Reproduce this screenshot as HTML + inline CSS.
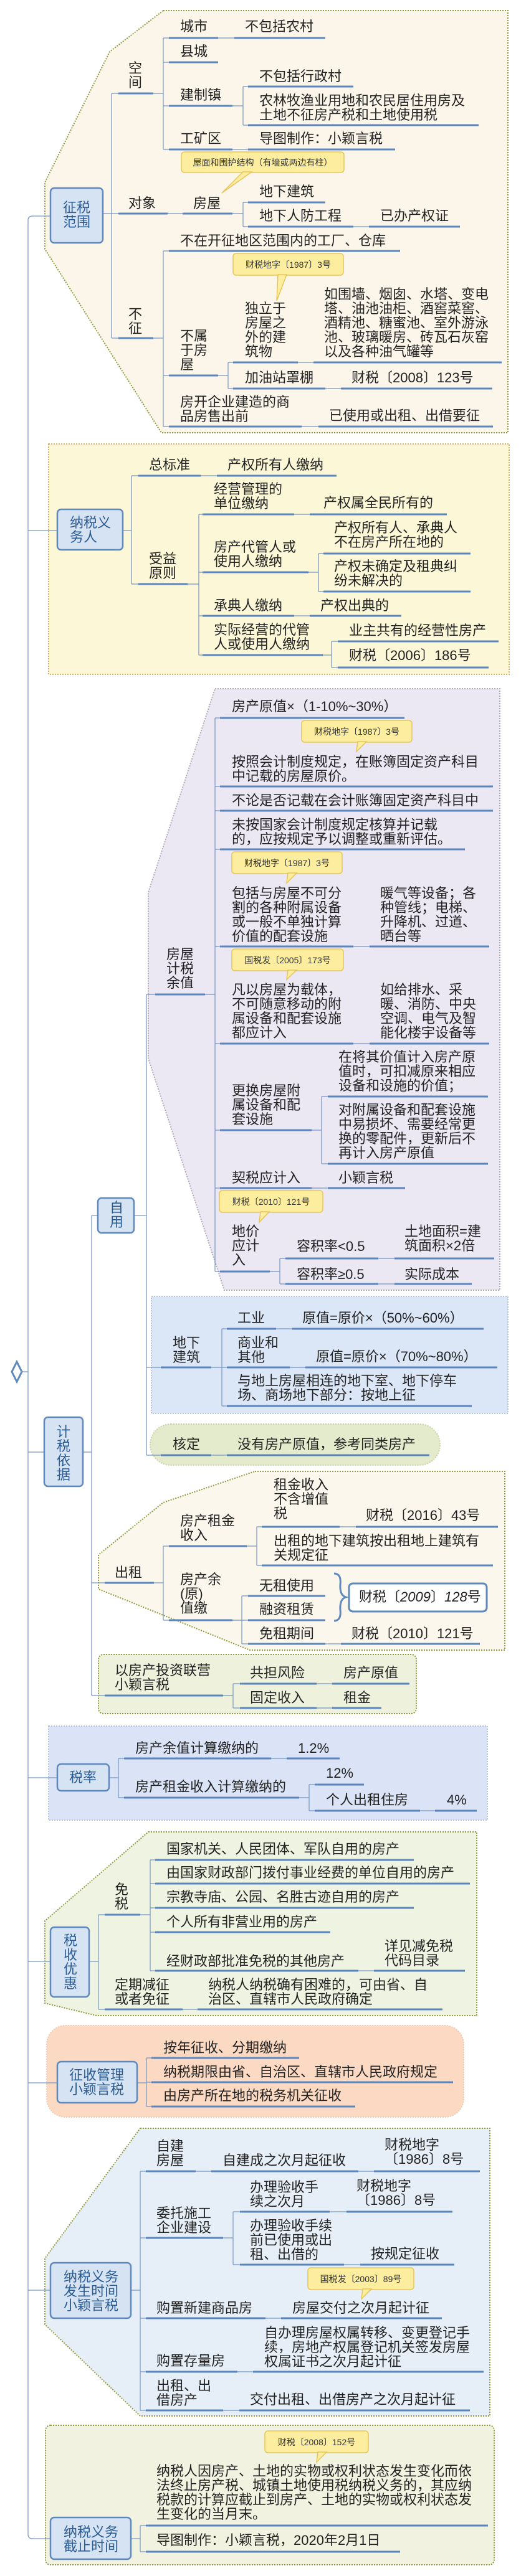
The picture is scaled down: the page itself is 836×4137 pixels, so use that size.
<!DOCTYPE html>
<html><head><meta charset="utf-8">
<style>
html,body{margin:0;padding:0;background:#fff}
#w{position:relative;width:836px;height:4137px;overflow:hidden;font-family:"Liberation Sans","Noto Sans CJK SC",sans-serif}
svg{position:absolute;left:0;top:0}
.t{position:absolute;font-size:22px;line-height:23px;color:#222;white-space:nowrap}
.b{position:absolute;font-size:22px;line-height:23px;color:#2b5b93;white-space:nowrap}
.c{position:absolute;font-size:14px;line-height:16px;color:#333;white-space:nowrap;text-align:center}
.u path{stroke:#5b86bd;stroke-width:3;fill:none}
.k path{stroke:#7596c4;stroke-width:1.2;fill:none}
</style></head><body><div id="w">
<svg width="836" height="4137" viewBox="0 0 836 4137">
<g stroke-dasharray="2 2" stroke-width="2">
<polygon points="262,17 815,17 815,695 259,695 72,400 72,293 176,83" fill="#fcf6ea" stroke="#8f9a3c"/>
<rect x="78" y="713" width="739" height="370" fill="#fcf7d6" stroke="#d9b06a"/>
<polygon points="345,1106 802,1106 802,2072 360,2072 238,1700 238,1433" fill="#ebe7f3" stroke="#b0aab8"/>
<rect x="243" y="2082" width="572" height="188" fill="#dbe6f7" stroke="#b8c4d8"/>
<rect x="241" y="2287" width="465" height="66" rx="33" fill="#e4ebcc" stroke="#c9d3a8"/>
<polygon points="409,2363 810,2363 810,2650 401,2650 158,2552 158,2497 262,2413" fill="#fbf7ec" stroke="#8f9a3c"/>
<rect x="158" y="2657" width="510" height="95" rx="8" fill="#eef2dc" stroke="#8f9a3c"/>
<rect x="78" y="2772" width="704" height="151" fill="#dbe4f7" stroke="#b8c4d8"/>
<polygon points="238,2942 765,2942 765,3237 155,3237 72,3217 72,3085" fill="#eff4e2" stroke="#8f9a3c"/>
<rect x="75" y="3253" width="669" height="147" rx="30" fill="#fbd9c2" stroke="#eecdb5"/>
<polygon points="225,3418 786,3418 786,3880 225,3880 72,3733 72,3627" fill="#e6eff8" stroke="#8f9a3c"/>
<rect x="73" y="3895" width="720" height="224" rx="8" fill="#f2f2e0" stroke="#8f9a3c"/>
</g>
<g class="k">
<path d="M81 347 H52 Q45 347 45 354 V4070 Q45 4077 52 4077 H81"/>
<path d="M45 852 H92 M45 2332 H71 M45 2855 H92 M45 3150 H81 M45 3345 H92 M45 3678 H81 M36 2203 H45"/>
<!-- S1 -->
<path d="M165 343 H179 M179 150 V543 M179 150 H190 M179 343 H190 M179 543 H190"/>
<path d="M246 150 H262 M262 61 V240 M262 61 H271 M262 100 H271 M262 170 H271 M262 240 H271"/>
<path d="M350 61 H376 M373 240 H398 M373 170 H390 M390 139 V201 M390 139 H398 M390 201 H398"/>
<path d="M269 343 H293 M373 343 H390 M390 325 V364 M390 325 H398 M390 364 H398 M567 364 H592"/>
<path d="M246 543 H262 M262 403 V685 M262 403 H271 M262 603 H271 M262 685 H271"/>
<path d="M350 603 H366 M366 582 V624 M366 582 H374 M366 624 H374 M478 582 H503 M522 624 H547 M484 685 H511"/>
<!-- S2 -->
<path d="M197 852 H211 M211 764 V938 M211 764 H222 M211 938 H222 M322 764 H348"/>
<path d="M301 938 H319 M319 826 V1052 M319 826 H325 M319 919 H325 M319 989 H325 M319 1052 H325"/>
<path d="M472 826 H497 M495 919 H511 M511 889 V950 M511 889 H519 M511 950 H519 M472 989 H497"/>
<path d="M518 1052 H532 M532 1030 V1072 M532 1030 H542 M532 1072 H542"/>
<!-- S3 -->
<path d="M133 2332 H147 M147 1952 V2723 M147 1952 H157 M147 2542 H168 M147 2723 H168"/>
<path d="M215 1952 H235 M235 1597 V2337 M235 1597 H249 M235 2196 H258 M235 2337 H258"/>
<path d="M329 1597 H345 M345 1153 V2042 M345 1153 H353 M345 1263 H353 M345 1302 H353 M345 1364 H353 M345 1520 H353 M345 1676 H353 M345 1815 H353 M345 1908 H353 M345 2042 H353"/>
<path d="M567 1520 H593 M567 1676 H593 M500 1815 H516 M516 1761 V1869 M516 1761 H526 M516 1869 H526 M500 1908 H526"/>
<path d="M433 2042 H449 M449 2021 V2062 M449 2021 H458 M449 2062 H458 M607 2021 H633 M607 2062 H633"/>
<path d="M339 2196 H356 M356 2134 V2258 M356 2134 H364 M356 2196 H364 M356 2258 H364 M443 2134 H469 M465 2196 H490 M339 2337 H364"/>
<path d="M247 2542 H262 M262 2483 V2602 M262 2483 H271 M262 2602 H271"/>
<path d="M396 2483 H412 M412 2452 V2514 M412 2452 H420 M412 2514 H420 M545 2452 H571"/>
<path d="M373 2602 H388 M388 2563 V2640 M388 2563 H398 M388 2602 H398 M388 2640 H398 M522 2640 H547"/>
<path d="M358 2723 H374 M374 2704 V2743 M374 2704 H385 M374 2743 H385 M508 2704 H533 M508 2743 H533"/>
<!-- S4 -->
<path d="M175 2855 H190 M190 2824 V2887 M190 2824 H199 M190 2887 H199 M435 2824 H460"/>
<path d="M480 2887 H496 M496 2866 V2908 M496 2866 H505 M496 2908 H505 M674 2908 H698"/>
<!-- S5 -->
<path d="M143 3150 H158 M158 3075 V3227 M158 3075 H168 M158 3227 H168 M293 3227 H317"/>
<path d="M225 3075 H241 M241 2987 V3165 M241 2987 H249 M241 3025 H249 M241 3064 H249 M241 3103 H249 M241 3165 H249 M575 3165 H600"/>
<!-- S6 -->
<path d="M220 3345 H235 M235 3305 V3383 M235 3305 H243 M235 3344 H243 M235 3383 H243"/>
<!-- S7 -->
<path d="M210 3678 H225 M225 3487 V3871 M225 3487 H234 M225 3594 H234 M225 3723 H234 M225 3809 H234 M225 3871 H234"/>
<path d="M314 3487 H339 M575 3487 H600 M358 3594 H374 M374 3552 V3637 M374 3552 H385 M374 3637 H385 M529 3552 H556 M552 3637 H578"/>
<path d="M426 3723 H451 M381 3809 H406 M358 3871 H384"/>
<!-- S8 -->
<path d="M210 4077 H225 M225 4056 V4098 M225 4056 H234 M225 4098 H234"/>
</g>
<g class="u">
<path d="M190 150 H246 M271 61 H350 M376 61 H522 M271 100 H350 M271 170 H373 M398 139 H567 M398 201 H768 M271 240 H373 M398 240 H634"/>
<path d="M190 343 H269 M293 343 H373 M398 325 H522 M398 364 H567 M592 364 H738 M190 543 H246 M271 403 H642 M271 603 H350"/>
<path d="M374 582 H478 M503 582 H805 M374 624 H522 M547 624 H790 M271 685 H484 M511 685 H791"/>
<path d="M222 764 H322 M348 764 H540 M222 938 H301 M325 826 H472 M497 826 H717 M325 919 H495 M519 889 H755 M519 950 H755"/>
<path d="M325 989 H472 M497 989 H644 M325 1052 H518 M542 1030 H800 M542 1072 H784"/>
<path d="M249 1597 H329 M353 1153 H649 M353 1263 H791 M353 1302 H791 M353 1364 H746 M353 1520 H567 M593 1520 H785 M353 1676 H567 M593 1676 H785"/>
<path d="M353 1815 H500 M526 1761 H783 M526 1869 H783 M353 1908 H500 M526 1908 H650 M353 2042 H433 M458 2021 H607 M633 2021 H793 M458 2062 H607 M633 2062 H757"/>
<path d="M258 2196 H339 M364 2134 H443 M469 2134 H776 M364 2196 H465 M490 2196 H798 M364 2258 H757 M258 2337 H339 M364 2337 H689"/>
<path d="M168 2542 H247 M271 2483 H396 M420 2452 H545 M571 2452 H799 M420 2514 H791 M271 2602 H373 M398 2563 H522 M398 2602 H522 M398 2640 H522 M547 2640 H770"/>
<path d="M168 2723 H358 M385 2704 H508 M533 2704 H657 M385 2743 H508 M533 2743 H612"/>
<path d="M199 2824 H435 M460 2824 H545 M199 2887 H480 M505 2866 H584 M505 2908 H674 M698 2908 H765"/>
<path d="M168 3075 H225 M249 2987 H664 M249 3025 H754 M249 3064 H664 M249 3103 H530 M249 3165 H575 M600 3165 H746 M168 3227 H293 M317 3227 H710"/>
<path d="M243 3305 H480 M243 3344 H727 M243 3383 H570"/>
<path d="M234 3487 H314 M339 3487 H575 M600 3487 H770 M234 3594 H358 M385 3552 H529 M556 3552 H726 M385 3637 H552 M578 3637 H729"/>
<path d="M234 3723 H426 M451 3723 H709 M234 3809 H381 M406 3809 H776 M234 3871 H358 M384 3871 H754 M234 4056 H783 M234 4098 H642"/>
</g>
<g fill="#d5e3f3" stroke="#5f88bd" stroke-width="2.5">
<rect x="81" y="302" width="84" height="88" rx="6"/>
<rect x="92" y="818" width="105" height="65" rx="6"/>
<rect x="71" y="2276" width="62" height="111" rx="6"/>
<rect x="157" y="1924" width="58" height="56" rx="6"/>
<rect x="92" y="2833" width="83" height="43" rx="6"/>
<rect x="81" y="3095" width="62" height="112" rx="6"/>
<rect x="92" y="3311" width="128" height="66" rx="6"/>
<rect x="81" y="3634" width="129" height="89" rx="6"/>
<rect x="81" y="4043" width="129" height="67" rx="6"/>
</g>
<polygon points="27,2187 35,2203 27,2219 19,2203" fill="#fff" stroke="#5f88bd" stroke-width="3"/>
<rect x="560" y="2543" width="221" height="45" rx="6" fill="#fff" stroke="#5f88bd" stroke-width="3"/>
<path d="M536 2527 Q548 2527 546 2545 Q545 2562 555 2565 Q545 2568 546 2585 Q548 2603 536 2603" stroke="#5f88bd" stroke-width="3" fill="none"/>
<g fill="#fcee9e" stroke="#e6c65a" stroke-width="1.5">
<rect x="291" y="244" width="261" height="33" rx="5"/><polygon points="390,276 404,276 356,310"/>
<rect x="374" y="407" width="177" height="35" rx="5"/><polygon points="446,441 460,441 444,483"/>
<rect x="484" y="1157" width="177" height="35" rx="5"/><polygon points="574,1191 588,1191 572,1207"/>
<rect x="372" y="1368" width="177" height="35" rx="5"/><polygon points="462,1402 476,1402 460,1418"/>
<rect x="372" y="1524" width="179" height="35" rx="5"/><polygon points="462,1558 476,1558 460,1573"/>
<rect x="352" y="1912" width="166" height="35" rx="5"/><polygon points="418,1946 432,1946 416,1963"/>
<rect x="494" y="3642" width="170" height="35" rx="5"/><polygon points="582,3676 596,3676 580,3692"/>
<rect x="425" y="3904" width="166" height="35" rx="5"/><polygon points="510,3938 524,3938 508,3954"/>
</g>
</svg>

<div class="c" style="left:291px;top:253px;width:261px">屋面和围护结构（有墙或两边有柱）</div>
<div class="c" style="left:374px;top:417px;width:177px">财税地字〔1987〕3号</div>
<div class="c" style="left:484px;top:1167px;width:177px">财税地字〔1987〕3号</div>
<div class="c" style="left:372px;top:1378px;width:177px">财税地字〔1987〕3号</div>
<div class="c" style="left:372px;top:1534px;width:179px">国税发〔2005〕173号</div>
<div class="c" style="left:352px;top:1922px;width:166px">财税〔2010〕121号</div>
<div class="c" style="left:494px;top:3652px;width:170px">国税发〔2003〕89号</div>
<div class="c" style="left:425px;top:3914px;width:166px">财税〔2008〕152号</div>

<div class="b" style="left:101px;top:322px">征税<br>范围</div>
<div class="b" style="left:112px;top:828px">纳税义<br>务人</div>
<div class="b" style="left:91px;top:2288px">计<br>税<br>依<br>据</div>
<div class="b" style="left:176px;top:1928px">自<br>用</div>
<div class="b" style="left:111px;top:2843px">税率</div>
<div class="b" style="left:102px;top:3105px">税<br>收<br>优<br>惠</div>
<div class="b" style="left:111px;top:3321px">征收管理<br>小颖言税</div>
<div class="b" style="left:102px;top:3645px">纳税义务<br>发生时间<br>小颖言税</div>
<div class="b" style="left:102px;top:4055px">纳税义务<br>截止时间</div>

<div class="t" style="left:206px;top:98px">空<br>间</div>
<div class="t" style="left:289px;top:31px">城市</div>
<div class="t" style="left:393px;top:31px">不包括农村</div>
<div class="t" style="left:289px;top:71px">县城</div>
<div class="t" style="left:289px;top:141px">建制镇</div>
<div class="t" style="left:416px;top:111px">不包括行政村</div>
<div class="t" style="left:416px;top:150px">农林牧渔业用地和农民居住用房及<br>土地不征房产税和土地使用税</div>
<div class="t" style="left:289px;top:211px">工矿区</div>
<div class="t" style="left:416px;top:211px">导图制作：小颖言税</div>
<div class="t" style="left:206px;top:315px">对象</div>
<div class="t" style="left:310px;top:315px">房屋</div>
<div class="t" style="left:416px;top:296px">地下建筑</div>
<div class="t" style="left:416px;top:335px">地下人防工程</div>
<div class="t" style="left:610px;top:335px">已办产权证</div>
<div class="t" style="left:206px;top:493px">不<br>征</div>
<div class="t" style="left:289px;top:375px">不在开征地区范围内的工厂、仓库</div>
<div class="t" style="left:289px;top:528px">不属<br>于房<br>屋</div>
<div class="t" style="left:393px;top:484px">独立于<br>房屋之<br>外的建<br>筑物</div>
<div class="t" style="left:520px;top:461px">如围墙、烟囱、水塔、变电<br>塔、油池油柜、酒窖菜窖、<br>酒精池、糖蜜池、室外游泳<br>池、玻璃暖房、砖瓦石灰窑<br>以及各种油气罐等</div>
<div class="t" style="left:393px;top:595px">加油站罩棚</div>
<div class="t" style="left:564px;top:595px">财税〔2008〕123号</div>
<div class="t" style="left:289px;top:634px">房开企业建造的商<br>品房售出前</div>
<div class="t" style="left:528px;top:656px">已使用或出租、出借要征</div>

<div class="t" style="left:239px;top:735px">总标准</div>
<div class="t" style="left:365px;top:735px">产权所有人缴纳</div>
<div class="t" style="left:239px;top:886px">受益<br>原则</div>
<div class="t" style="left:343px;top:774px">经营管理的<br>单位缴纳</div>
<div class="t" style="left:519px;top:796px">产权属全民所有的</div>
<div class="t" style="left:343px;top:867px">房产代管人或<br>使用人缴纳</div>
<div class="t" style="left:536px;top:836px">产权所有人、承典人<br>不在房产所在地的</div>
<div class="t" style="left:536px;top:898px">产权未确定及租典纠<br>纷未解决的</div>
<div class="t" style="left:343px;top:961px">承典人缴纳</div>
<div class="t" style="left:514px;top:961px">产权出典的</div>
<div class="t" style="left:343px;top:1000px">实际经营的代管<br>人或使用人缴纳</div>
<div class="t" style="left:560px;top:1001px">业主共有的经营性房产</div>
<div class="t" style="left:560px;top:1041px">财税〔2006〕186号</div>

<div class="t" style="left:267px;top:1521px">房屋<br>计税<br>余值</div>
<div class="t" style="left:372px;top:1123px">房产原值×（1-10%~30%）</div>
<div class="t" style="left:372px;top:1212px">按照会计制度规定，在账簿固定资产科目<br>中记载的房屋原价。</div>
<div class="t" style="left:372px;top:1274px">不论是否记载在会计账簿固定资产科目中</div>
<div class="t" style="left:372px;top:1313px">未按国家会计制度规定核算并记载<br>的，应按规定予以调整或重新评估。</div>
<div class="t" style="left:372px;top:1423px">包括与房屋不可分<br>割的各种附属设备<br>或一般不单独计算<br>价值的配套设施</div>
<div class="t" style="left:610px;top:1423px">暖气等设备；各<br>种管线；电梯、<br>升降机、过道、<br>晒台等</div>
<div class="t" style="left:372px;top:1578px">凡以房屋为载体，<br>不可随意移动的附<br>属设备和配套设施<br>都应计入</div>
<div class="t" style="left:610px;top:1578px">如给排水、采<br>暖、消防、中央<br>空调、电气及智<br>能化楼宇设备等</div>
<div class="t" style="left:372px;top:1740px">更换房屋附<br>属设备和配<br>套设施</div>
<div class="t" style="left:543px;top:1686px">在将其价值计入房产原<br>值时，可扣减原来相应<br>设备和设施的价值；</div>
<div class="t" style="left:543px;top:1771px">对附属设备和配套设施<br>中易损坏、需要经常更<br>换的零配件，更新后不<br>再计入房产原值</div>
<div class="t" style="left:372px;top:1880px">契税应计入</div>
<div class="t" style="left:543px;top:1880px">小颖言税</div>
<div class="t" style="left:372px;top:1966px">地价<br>应计<br>入</div>
<div class="t" style="left:476px;top:1990px">容积率&lt;0.5</div>
<div class="t" style="left:649px;top:1966px">土地面积=建<br>筑面积×2倍</div>
<div class="t" style="left:476px;top:2035px">容积率≥0.5</div>
<div class="t" style="left:649px;top:2035px">实际成本</div>
<div class="t" style="left:277px;top:2145px">地下<br>建筑</div>
<div class="t" style="left:381px;top:2105px">工业</div>
<div class="t" style="left:485px;top:2105px">原值=原价×（50%~60%）</div>
<div class="t" style="left:381px;top:2145px">商业和<br>其他</div>
<div class="t" style="left:507px;top:2167px">原值=原价×（70%~80%）</div>
<div class="t" style="left:381px;top:2206px">与地上房屋相连的地下室、地下停车<br>场、商场地下部分：按地上征</div>
<div class="t" style="left:277px;top:2308px">核定</div>
<div class="t" style="left:381px;top:2308px">没有房产原值，参考同类房产</div>
<div class="t" style="left:184px;top:2514px">出租</div>
<div class="t" style="left:289px;top:2431px">房产租金<br>收入</div>
<div class="t" style="left:439px;top:2373px">租金收入<br>不含增值<br>税</div>
<div class="t" style="left:587px;top:2422px">财税〔2016〕43号</div>
<div class="t" style="left:439px;top:2463px">出租的地下建筑按出租地上建筑有<br>关规定征</div>
<div class="t" style="left:289px;top:2525px">房产余<br>(原)<br>值缴</div>
<div class="t" style="left:416px;top:2535px">无租使用</div>
<div class="t" style="left:416px;top:2573px">融资租赁</div>
<div class="t" style="left:576px;top:2553px">财税〔<i>2009</i>〕<i>128</i>号</div>
<div class="t" style="left:416px;top:2612px">免租期间</div>
<div class="t" style="left:564px;top:2612px">财税〔2010〕121号</div>
<div class="t" style="left:184px;top:2671px">以房产投资联营<br>小颖言税</div>
<div class="t" style="left:401px;top:2675px">共担风险</div>
<div class="t" style="left:551px;top:2675px">房产原值</div>
<div class="t" style="left:401px;top:2715px">固定收入</div>
<div class="t" style="left:551px;top:2715px">租金</div>

<div class="t" style="left:217px;top:2796px">房产余值计算缴纳的</div>
<div class="t" style="left:478px;top:2796px">1.2%</div>
<div class="t" style="left:217px;top:2858px">房产租金收入计算缴纳的</div>
<div class="t" style="left:523px;top:2836px">12%</div>
<div class="t" style="left:523px;top:2879px">个人出租住房</div>
<div class="t" style="left:717px;top:2879px">4%</div>

<div class="t" style="left:184px;top:3023px">免<br>税</div>
<div class="t" style="left:267px;top:2958px">国家机关、人民团体、军队自用的房产</div>
<div class="t" style="left:267px;top:2996px">由国家财政部门拨付事业经费的单位自用的房产</div>
<div class="t" style="left:267px;top:3035px">宗教寺庙、公园、名胜古迹自用的房产</div>
<div class="t" style="left:267px;top:3075px">个人所有非营业用的房产</div>
<div class="t" style="left:267px;top:3138px">经财政部批准免税的其他房产</div>
<div class="t" style="left:617px;top:3114px">详见减免税<br>代码目录</div>
<div class="t" style="left:184px;top:3176px">定期减征<br>或者免征</div>
<div class="t" style="left:334px;top:3176px">纳税人纳税确有困难的，可由省、自<br>治区、直辖市人民政府确定</div>

<div class="t" style="left:262px;top:3277px">按年征收、分期缴纳</div>
<div class="t" style="left:262px;top:3316px">纳税期限由省、自治区、直辖市人民政府规定</div>
<div class="t" style="left:262px;top:3354px">由房产所在地的税务机关征收</div>

<div class="t" style="left:251px;top:3435px">自建<br>房屋</div>
<div class="t" style="left:357px;top:3458px">自建成之次月起征收</div>
<div class="t" style="left:617px;top:3433px">财税地字<br>〔1986〕8号</div>
<div class="t" style="left:251px;top:3543px">委托施工<br>企业建设</div>
<div class="t" style="left:401px;top:3501px">办理验收手<br>续之次月</div>
<div class="t" style="left:572px;top:3499px">财税地字<br>〔1986〕8号</div>
<div class="t" style="left:401px;top:3563px">办理验收手续<br>前已使用或出<br>租、出借的</div>
<div class="t" style="left:595px;top:3608px">按规定征收</div>
<div class="t" style="left:251px;top:3695px">购置新建商品房</div>
<div class="t" style="left:469px;top:3695px">房屋交付之次月起计征</div>
<div class="t" style="left:251px;top:3780px">购置存量房</div>
<div class="t" style="left:424px;top:3735px">自办理房屋权属转移、变更登记手<br>续，房地产权属登记机关签发房屋<br>权属证书之次月起计征</div>
<div class="t" style="left:251px;top:3820px">出租、出<br>借房产</div>
<div class="t" style="left:401px;top:3842px">交付出租、出借房产之次月起计征</div>

<div class="t" style="left:251px;top:3957px">纳税人因房产、土地的实物或权利状态发生变化而依<br>法终止房产税、城镇土地使用税纳税义务的，其应纳<br>税款的计算应截止到房产、土地的实物或权利状态发<br>生变化的当月末。</div>
<div class="t" style="left:251px;top:4068px">导图制作：小颖言税，2020年2月1日</div>
</div></body></html>
